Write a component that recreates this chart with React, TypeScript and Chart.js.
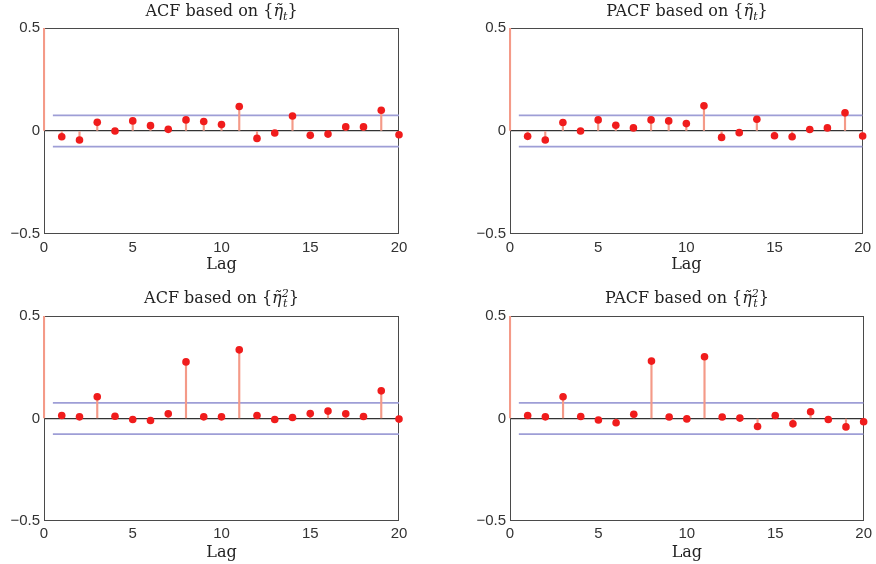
import React, { useEffect, useRef } from "react";
import { Chart, registerables } from "chart.js";
Chart.register(...registerables);

// ---- data ----
const lags = [1, 2, 3, 4, 5, 6, 7, 8, 9, 10, 11, 12, 13, 14, 15, 16, 17, 18, 19, 20];
const acfEta = [-0.028, -0.044, 0.042, 0.0, 0.049, 0.026, 0.008, 0.054, 0.046, 0.031, 0.119, -0.036, -0.01, 0.073, -0.021, -0.015, 0.02, 0.02, 0.101, -0.018];
const pacfEta = [-0.026, -0.044, 0.041, 0.0, 0.054, 0.028, 0.015, 0.054, 0.049, 0.036, 0.122, -0.031, -0.008, 0.057, -0.023, -0.028, 0.007, 0.015, 0.088, -0.024];
const acfEta2 = [0.015, 0.008, 0.106, 0.011, -0.005, -0.01, 0.023, 0.276, 0.008, 0.008, 0.335, 0.015, -0.005, 0.005, 0.024, 0.036, 0.023, 0.01, 0.135, -0.003];
const pacfEta2 = [0.015, 0.008, 0.106, 0.01, -0.007, -0.021, 0.021, 0.28, 0.007, -0.002, 0.301, 0.007, 0.002, -0.039, 0.015, -0.026, 0.033, -0.005, -0.041, -0.016];
const lagZero = 0;
const lagZeroValue = 1;
const confBound = 0.076;
const bandX = [0.5, 20];
const xTicks = [0, 5, 10, 15, 20];
const yTicks = [-0.5, 0, 0.5];

type Geom = { cl: number; ct: number; cw: number; ch: number; al: number; at: number; ar: number; ab: number; tickPad: number; lagPad: number };

const boxPlugin = {
  id: "boxPlugin",
  beforeDatasetsDraw(chart: any) {
    const { ctx, chartArea: a } = chart;
    ctx.save();
    ctx.strokeStyle = "#4a4a4a";
    ctx.lineWidth = 1;
    ctx.strokeRect(Math.round(a.left) + 0.5, Math.round(a.top) + 0.5, Math.round(a.right - a.left) - 1, Math.round(a.bottom - a.top) - 1);
    ctx.restore();
  },
};

function Panel({ values, g }: { values: number[]; g: Geom }) {
  const ref = useRef<HTMLCanvasElement>(null);
  useEffect(() => {
    if (!ref.current) return;
    const stemData = [{ x: lagZero, y: lagZeroValue }, ...lags.map((l, i) => ({ x: l, y: values[i] }))];
    const pointData = lags.map((l, i) => ({ x: l, y: values[i] }));
    const chart = new Chart(ref.current, {
      type: "scatter",
      data: {
        datasets: [
          { type: "scatter", data: pointData, pointRadius: 3.8, pointHoverRadius: 3.8, backgroundColor: "#f01c1c", borderWidth: 0, order: 0, clip: 6 } as any,
          { type: "bar", data: stemData, backgroundColor: "#f49a88", barThickness: 1.5, order: 1, clip: { left: 1, right: 0, top: 0, bottom: 0 } } as any,
          { type: "line", data: bandX.map((x) => ({ x, y: confBound })), borderColor: "#9e9ed6", borderWidth: 1.6, pointRadius: 0, order: 2 } as any,
          { type: "line", data: bandX.map((x) => ({ x, y: -confBound })), borderColor: "#9e9ed6", borderWidth: 1.6, pointRadius: 0, order: 2 } as any,
        ],
      },
      options: {
        animation: false,
        responsive: false,
        maintainAspectRatio: false,
        events: [],
        layout: { padding: { left: 0, top: g.at - g.ct, right: g.cl + g.cw - g.ar, bottom: 0 } },
        plugins: { legend: { display: false }, tooltip: { enabled: false }, title: { display: false } },
        scales: {
          x: {
            type: "linear",
            min: 0,
            max: 20,
            offset: false,
            afterBuildTicks: (s: any) => {
              s.ticks = xTicks.map((v) => ({ value: v }));
            },
            afterFit: (s: any) => {
              s.height = g.ct + g.ch - g.ab;
            },
            ticks: { font: { family: "Liberation Sans", size: 15 }, color: "#333", padding: g.tickPad, maxRotation: 0, autoSkip: false },
            grid: { display: false, drawTicks: false },
            border: { display: false },
            title: { display: true, text: "Lag", font: { family: "DejaVu Serif", size: 16 }, color: "#222", padding: { top: 0, bottom: g.lagPad } },
          },
          y: {
            type: "linear",
            min: -0.5,
            max: 0.5,
            afterBuildTicks: (s: any) => {
              s.ticks = yTicks.map((v) => ({ value: v }));
            },
            afterFit: (s: any) => {
              s.width = g.al - g.cl;
            },
            ticks: {
              font: { family: "Liberation Sans", size: 15 },
              color: "#333",
              padding: 4,
              callback: (v: any) => (v < 0 ? "\u2212" + Math.abs(v) : String(v)),
            },
            grid: {
              color: (c: any) => (c.tick && c.tick.value === 0 ? "#333" : "rgba(0,0,0,0)"),
              drawTicks: false,
              lineWidth: 1.2,
            },
            border: { display: false },
          },
        },
      } as any,
      plugins: [boxPlugin],
    });
    return () => chart.destroy();
  }, []);
  return (
    <canvas
      ref={ref}
      width={g.cw}
      height={g.ch}
      style={{ position: "absolute", left: g.cl, top: g.ct, width: g.cw, height: g.ch }}
    />
  );
}

function Eta({ squared }: { squared: boolean }) {
  return (
    <span>
      {"{"}
      <i>η̃</i>
      {squared ? (
        <span style={{ display: "inline-flex", flexDirection: "column", fontSize: 11, lineHeight: "10px", verticalAlign: "middle", fontStyle: "italic" }}>
          <span>2</span>
          <span>t</span>
        </span>
      ) : (
        <sub style={{ fontSize: 11, fontStyle: "italic" }}>t</sub>
      )}
      {"}"}
    </span>
  );
}

function Title({ g, label, squared, top }: { g: Geom; label: string; squared: boolean; top: number }) {
  return (
    <div
      style={{
        position: "absolute",
        left: g.al,
        width: g.ar - g.al,
        top,
        textAlign: "center",
        fontFamily: "DejaVu Serif",
        fontSize: 16,
        color: "#222",
        lineHeight: "20px",
        whiteSpace: "nowrap",
      }}
    >
      {label} based on <Eta squared={squared} />
    </div>
  );
}

const g1: Geom = { cl: 0, ct: 8, cw: 430, ch: 272, al: 44, at: 28, ar: 399, ab: 234, tickPad: 5, lagPad: 6 };
const g2: Geom = { cl: 438, ct: 8, cw: 438, ch: 272, al: 510, at: 28, ar: 864, ab: 234, tickPad: 5, lagPad: 6 };
const g3: Geom = { cl: 0, ct: 296, cw: 430, ch: 268, al: 44, at: 316, ar: 399, ab: 521, tickPad: 4, lagPad: 2 };
const g4: Geom = { cl: 438, ct: 296, cw: 438, ch: 268, al: 510, at: 316, ar: 864, ab: 521, tickPad: 4, lagPad: 2 };

export default function App() {
  return (
    <div style={{ position: "fixed", left: 0, top: 0, width: 876, height: 564, background: "#fff", overflow: "hidden" }}>
      <Panel values={acfEta} g={g1} />
      <Panel values={pacfEta} g={g2} />
      <Panel values={acfEta2} g={g3} />
      <Panel values={pacfEta2} g={g4} />
      <Title g={g1} label="ACF" squared={false} top={1} />
      <Title g={g2} label="PACF" squared={false} top={1} />
      <Title g={g3} label="ACF" squared={true} top={288} />
      <Title g={g4} label="PACF" squared={true} top={288} />
    </div>
  );
}
